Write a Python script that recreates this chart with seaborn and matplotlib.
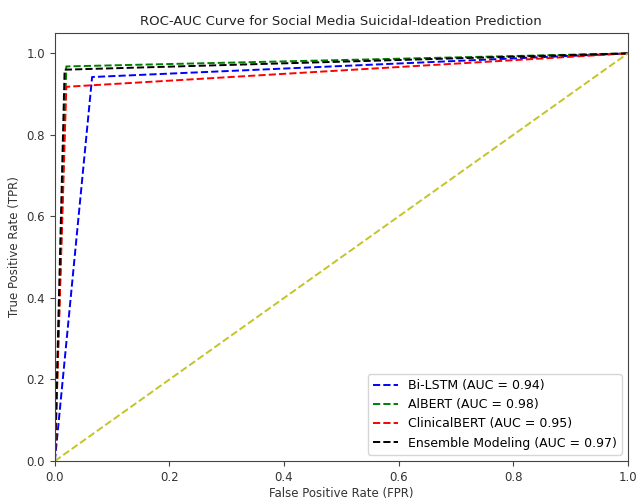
import numpy as np
import pandas as pd
import matplotlib
matplotlib.use('Agg')
import matplotlib.pyplot as plt
import seaborn as sns

# ROC 곡선 좌표
fpr_bilstm = [0.0, 0.065, 1.0]
tpr_bilstm = [0.0, 0.942, 1.0]
fpr_albert = [0.0, 0.02, 1.0]
tpr_albert = [0.0, 0.968, 1.0]
fpr_clinical = [0.0, 0.02, 1.0]
tpr_clinical = [0.0, 0.918, 1.0]
fpr_ensemble = [0.0, 0.017, 1.0]
tpr_ensemble = [0.0, 0.96, 1.0]
diag = [0.0, 1.0]

models = ['Bi-LSTM', 'AlBERT', 'ClinicalBERT', 'Ensemble Modeling']
aucs = [0.94, 0.98, 0.95, 0.97]
colors = ['b', 'g', 'r', 'k']
curves = [(fpr_bilstm, tpr_bilstm), (fpr_albert, tpr_albert),
          (fpr_clinical, tpr_clinical), (fpr_ensemble, tpr_ensemble)]

plt.rcParams['font.family'] = ['DejaVu Sans']
plt.rcParams['axes.edgecolor'] = '#444444'
plt.rcParams['xtick.color'] = '#444444'
plt.rcParams['ytick.color'] = '#444444'
plt.rcParams['xtick.labelcolor'] = '#333333'
plt.rcParams['ytick.labelcolor'] = '#333333'
fig = plt.figure(figsize=(6.38, 5.0), dpi=100)
ax = fig.add_axes([0.086, 0.078, 0.898, 0.856])

for name, auc, c, (fx, ty) in zip(models, aucs, colors, curves):
    sns.lineplot(x=fx, y=ty, ax=ax, color=c, linestyle='--', lw=1.4,
                 label=f'{name} (AUC = {auc:.2f})', sort=False)
sns.lineplot(x=diag, y=diag, ax=ax, color='#c4c428', linestyle='--', lw=1.4)

ax.set_xlim(0, 1)
ax.set_ylim(0, 1.05)
ax.tick_params(labelsize=8.5)
ax.set_xlabel('False Positive Rate (FPR)', fontsize=8.5, labelpad=2, color='#333333')
ax.set_ylabel('True Positive Rate (TPR)', fontsize=8.5, color='#333333')
ax.set_title('ROC-AUC Curve for Social Media Suicidal-Ideation Prediction',
             fontsize=9.5, color='#222222')
ax.legend(loc='lower right', fontsize=9)

fig.savefig('out.png', dpi=100)
